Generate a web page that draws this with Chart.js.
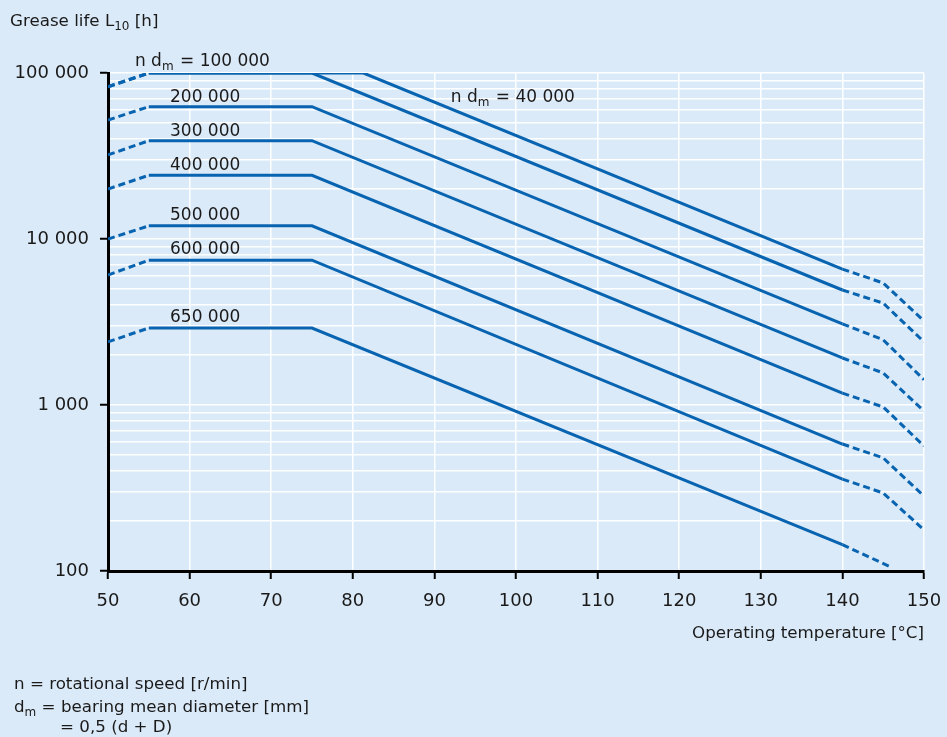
<!DOCTYPE html>
<html>
<head>
<meta charset="utf-8">
<script src="https://cdn.jsdelivr.net/npm/chart.js@4/dist/chart.umd.min.js"></script>
<style>
    body { margin: 0; background: #dbeaf8; font-family: "DejaVu Sans", sans-serif; color: #1a1a1a; }
    #wrap { position: relative; width: 947px; height: 737px; }
    canvas { position: absolute; left: 0; top: 0; }
    .txt { position: absolute; font-size: 16.7px; line-height: 20px; white-space: nowrap; }
    .txt sub { font-size: 12px; line-height: 0; vertical-align: -4px; }
</style>
</head>
<body>
<div id="wrap">
    <canvas id="chart-grasa" width="947" height="737"></canvas>
    <div class="txt" style="left:10px; top:10px;">Grease life L<sub>10</sub> [h]</div>
    <div class="txt" style="left:14px; top:673px;">n = rotational speed [r/min]</div>
    <div class="txt" style="left:14px; top:696px;">d<sub>m</sub> = bearing mean diameter [mm]</div>
    <div class="txt" style="left:60px; top:716px;">= 0,5 (d + D)</div>
</div>
<script>
// Temperaturas de cada curva (°C)
const tempsStd = [50, 55, 75, 140, 145, 150];
const temps40k = [50, 55, 81.3, 140, 145, 150];
const temps650k = [50, 55, 75, 140, 145.7];

// Vida de la grasa L10 [h] por valor n·dm
const vida40k = [82600, 100000, 100000, 6590, 5430, 3210];
const vida100k = [82600, 100000, 100000, 4930, 4110, 2400];
const vida200k = [52100, 62700, 62700, 3080, 2470, 1420];
const vida300k = [32100, 39100, 39100, 1920, 1560, 920];
const vida400k = [20000, 24200, 24200, 1180, 973, 566];
const vida500k = [10000, 12000, 12000, 582, 480, 283];
const vida600k = [6070, 7450, 7450, 358, 295, 177];
const vida650k = [2400, 2910, 2910, 144, 107];

// Ejes
const xTicks = [50, 60, 70, 80, 90, 100, 110, 120, 130, 140, 150];
const yMajor = [100, 1000, 10000, 100000];
const yGrid = [];
[100, 1000, 10000].forEach(d => {
    for (let k = 1; k < 10; k++) yGrid.push(d * k);
});
yGrid.push(100000);

// Rótulos de las curvas: texto, subíndice, posición en datos (línea base)
const rotulos = [
    { parts: [['n d', false], ['m', true], [' = 100 000', false]], x: 53.3, y: 110600 },
    { parts: [['n d', false], ['m', true], [' = 40 000', false]], x: 92.0, y: 67100 },
    { parts: [['200 000', false]], x: 57.6, y: 66500 },
    { parts: [['300 000', false]], x: 57.6, y: 41900 },
    { parts: [['400 000', false]], x: 57.6, y: 26100 },
    { parts: [['500 000', false]], x: 57.6, y: 13000 },
    { parts: [['600 000', false]], x: 57.6, y: 8090 },
    { parts: [['650 000', false]], x: 57.6, y: 3180 }
];

const AZUL = '#0864b0';
const TEXTO = '#1a1a1a';

function serie(temps, vida) {
    return {
        data: temps.map((t, i) => ({ x: t, y: vida[i] })),
        borderColor: AZUL,
        borderWidth: 3,
        pointRadius: 0,
        tension: 0,
        fill: false,
        segment: {
            borderDash: ctx => (ctx.p0DataIndex === 0 || ctx.p0.parsed.x >= 139.9) ? [7, 4] : undefined
        }
    };
}

function formatoMiles(v) {
    return String(v).replace(/\B(?=(\d{3})+(?!\d))/g, ' ');
}

const rotulosPlugin = {
    id: 'rotulos',
    afterDatasetsDraw(chart) {
        const { ctx, scales: { x, y } } = chart;
        ctx.save();
        ctx.fillStyle = TEXTO;
        ctx.textBaseline = 'alphabetic';
        ctx.textAlign = 'left';
        rotulos.forEach(r => {
            let px = x.getPixelForValue(r.x);
            const py = y.getPixelForValue(r.y);
            r.parts.forEach(([txt, sub]) => {
                ctx.font = sub ? '12px "DejaVu Sans"' : '17px "DejaVu Sans"';
                ctx.fillText(txt, px, sub ? py + 4 : py);
                px += ctx.measureText(txt).width + (sub ? 1 : 0);
            });
        });
        ctx.restore();
    }
};

new Chart(document.getElementById('chart-grasa'), {
    type: 'line',
    data: {
        datasets: [
            serie(temps40k, vida40k),
            serie(tempsStd, vida100k),
            serie(tempsStd, vida200k),
            serie(tempsStd, vida300k),
            serie(tempsStd, vida400k),
            serie(tempsStd, vida500k),
            serie(tempsStd, vida600k),
            serie(temps650k, vida650k)
        ]
    },
    options: {
        responsive: false,
        animation: false,
        layout: { padding: { left: 0, top: 73, right: 23, bottom: 93 } },
        plugins: {
            legend: { display: false },
            tooltip: { enabled: false }
        },
        scales: {
            x: {
                type: 'linear',
                min: 50,
                max: 150,
                afterBuildTicks: s => { s.ticks = xTicks.map(v => ({ value: v })); },
                afterFit: s => { s.height = 73; s.paddingLeft = 0; s.paddingRight = 0; },
                grid: { color: '#ffffff', lineWidth: 1.5, tickColor: '#000000', tickWidth: 2, tickLength: 8 },
                border: { color: '#000000', width: 3 },
                ticks: { color: TEXTO, font: { family: 'DejaVu Sans', size: 18 }, padding: 12, maxRotation: 0, autoSkip: false },
                title: {
                    display: true,
                    text: 'Operating temperature [°C]',
                    align: 'end',
                    color: TEXTO,
                    font: { family: 'DejaVu Sans', size: 16.7 },
                    padding: 0
                }
            },
            y: {
                type: 'logarithmic',
                min: 100,
                max: 100000,
                afterBuildTicks: s => { s.ticks = yGrid.map(v => ({ value: v })); },
                afterFit: s => { s.width = 108; },
                grid: {
                    color: '#ffffff',
                    lineWidth: 1.5,
                    tickColor: ctx => yMajor.includes(ctx.tick && ctx.tick.value) ? '#000000' : 'rgba(0,0,0,0)',
                    tickWidth: 2,
                    tickLength: 8
                },
                border: { color: '#000000', width: 3 },
                ticks: {
                    color: TEXTO,
                    font: { family: 'DejaVu Sans', size: 18 },
                    padding: 11,
                    autoSkip: false,
                    callback: v => yMajor.includes(v) ? formatoMiles(v) : ''
                }
            }
        }
    },
    plugins: [rotulosPlugin]
});
</script>
</body>
</html>
